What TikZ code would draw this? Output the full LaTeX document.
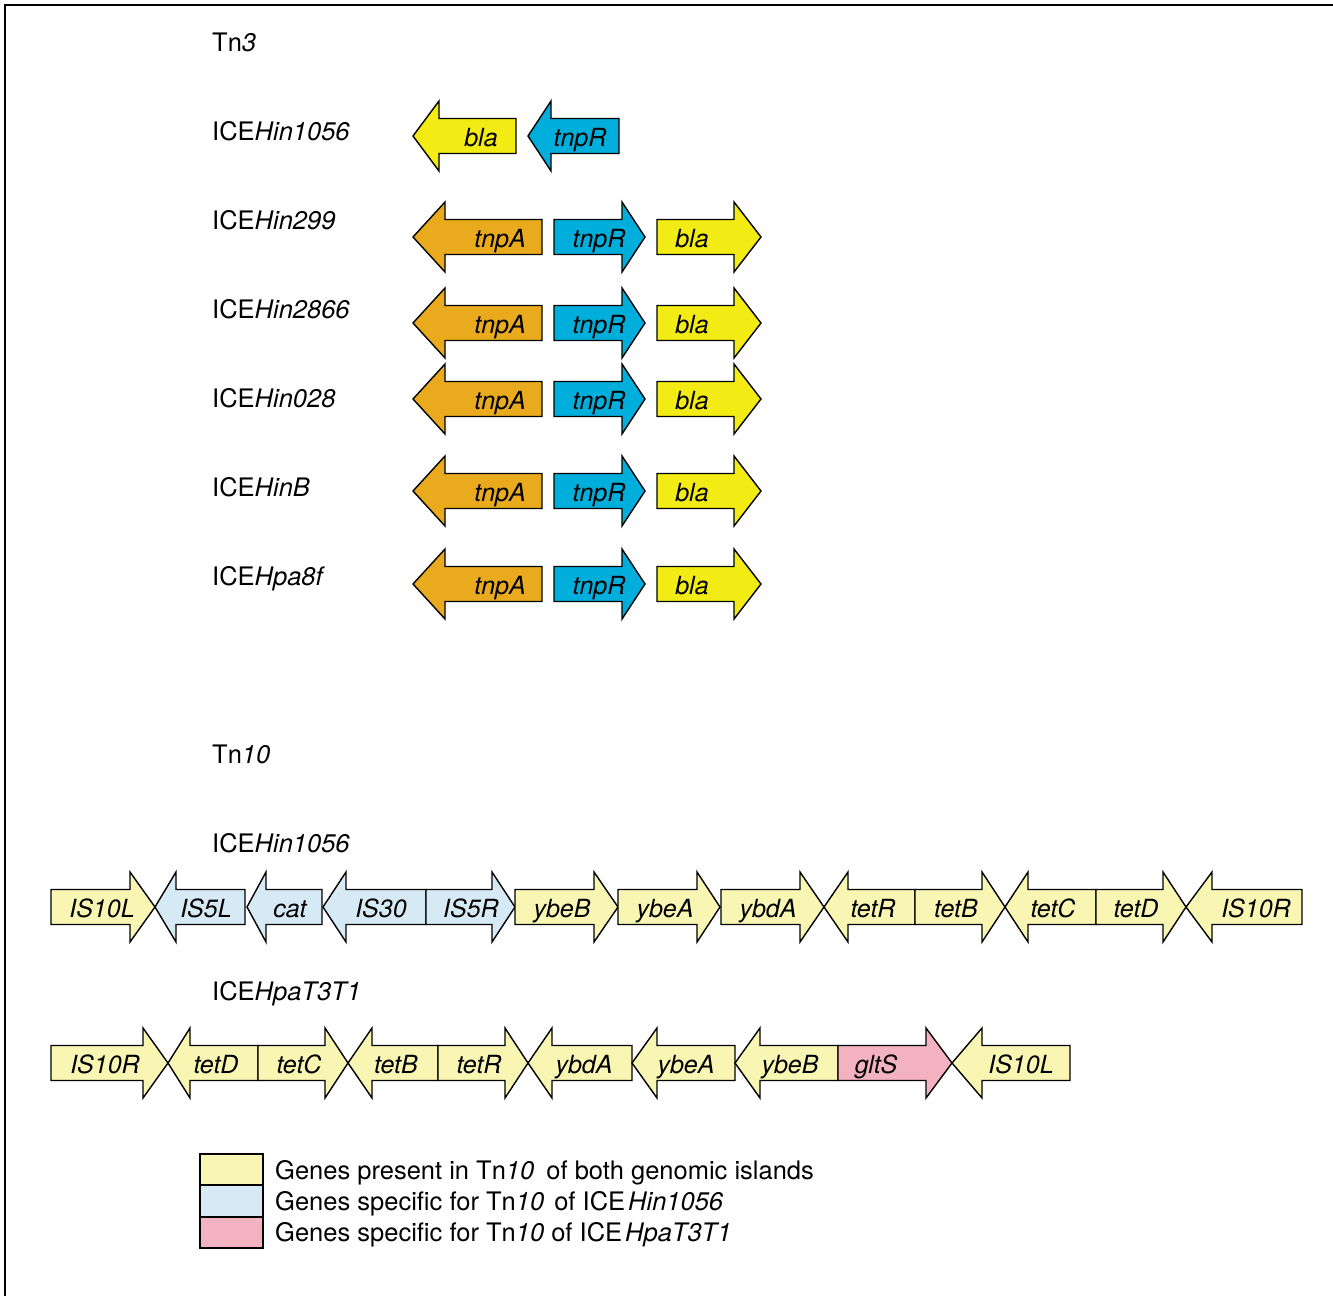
\documentclass[tikz,border=0pt]{standalone}
\usepackage{fontspec}
\setmainfont{TeX Gyre Heros}
\definecolor{gylw}{RGB}{242,235,20}
\definecolor{gcyan}{RGB}{0,174,219}
\definecolor{gorange}{RGB}{233,170,30}
\definecolor{pylw}{RGB}{249,245,178}
\definecolor{pblue}{RGB}{214,234,245}
\definecolor{ppink}{RGB}{242,178,194}
\newcommand{\gR}[5]{\path[gene,fill=#5] (#1,#4-17.5) -- (#2,#4-17.5) -- (#2,#4-35) -- (#3,#4) -- (#2,#4+35) -- (#2,#4+17.5) -- (#1,#4+17.5) -- cycle;}
\newcommand{\gL}[5]{\path[gene,fill=#5] (#3,#4-17.5) -- (#2,#4-17.5) -- (#2,#4-35) -- (#1,#4) -- (#2,#4+35) -- (#2,#4+17.5) -- (#3,#4+17.5) -- cycle;}
\begin{document}
\begin{tikzpicture}[x=1pt,y=-1pt,
  gene/.style={draw=black,line width=1.4pt,line join=miter},
  lbl/.style={anchor=base west,inner sep=0pt,font=\fontsize{25.5}{30}\selectfont},
  glbl/.style={anchor=base,inner sep=0pt,font=\fontsize{25}{30}\selectfont\itshape},
  legbox/.style={draw=black,line width=2pt}]
\useasboundingbox (0,0) rectangle (1333,1296);
\draw[line width=1.5pt] (5,1296) -- (5,5) -- (1333,5);
% ---------- Tn3 ----------
\node[lbl] (tn3) at (212,51) {Tn\textit{3}};
\node[lbl] (l1056) at (212,140) {ICE\textit{Hin1056}};
\node[lbl] (l299) at (212,229) {ICE\textit{Hin299}};
\node[lbl] (l2866) at (212,318) {ICE\textit{Hin2866}};
\node[lbl] (l028) at (212,407) {ICE\textit{Hin028}};
\node[lbl] (lB) at (212,496) {ICE\textit{HinB}};
\node[lbl] (l8f) at (212,585) {ICE\textit{Hpa8f}};
% row ICEHin1056
\gL{413}{439}{516}{136}{gylw}
\gL{528}{551}{619}{136}{gcyan}
\node[glbl] (a1bla) at (481,146) {bla};
\node[glbl] (a1tnpR) at (580,146) {tnpR};
% rows with tnpA tnpR bla
\foreach \yc/\nm in {237/b,323/c,399/d,491/e,584/f}{
  \gL{413}{445}{542}{\yc}{gorange}
  \gR{554}{622}{645}{\yc}{gcyan}
  \gR{657}{734}{761}{\yc}{gylw}
  \node[glbl] (\nm tnpA) at (500,\yc+10) {tnpA};
  \node[glbl] (\nm tnpR) at (599,\yc+10) {tnpR};
  \node[glbl] (\nm bla) at (692,\yc+10) {bla};
}
% ---------- Tn10 ----------
\node[lbl] (tn10) at (212,763) {Tn\textit{10}};
\node[lbl] (m1056) at (212,852) {ICE\textit{Hin1056}};
\node[lbl] (mT3T1) at (212,1000) {ICE\textit{HpaT3T1}};
% row 1
\gR{51}{130}{155}{907}{pylw}
\gL{155}{176}{245}{907}{pblue}
\gL{247}{266}{322}{907}{pblue}
\gL{323}{346}{426}{907}{pblue}
\gR{426}{492}{515}{907}{pblue}
\gR{515}{594}{618}{907}{pylw}
\gR{618}{697}{720}{907}{pylw}
\gR{721}{800}{824}{907}{pylw}
\gL{824}{848}{915}{907}{pylw}
\gR{915}{982}{1005}{907}{pylw}
\gL{1005}{1028}{1096}{907}{pylw}
\gR{1096}{1163}{1186}{907}{pylw}
\gL{1186}{1212}{1302}{907}{pylw}
\foreach \x/\t/\nm in {102/IS10L/r1a,206/IS5L/r1b,290/cat/r1c,381/IS30/r1d,471/IS5R/r1e,562/ybeB/r1f,665/ybeA/r1g,768/ybdA/r1h,873/tetR/r1i,956/tetB/r1j,1053/tetC/r1k,1136/tetD/r1l,1256/IS10R/r1m}
  \node[glbl] (\nm) at (\x,917) {\t};
% row 2
\gR{51}{143}{168}{1063}{pylw}
\gL{168}{190}{258}{1063}{pylw}
\gR{258}{325}{348}{1063}{pylw}
\gL{348}{372}{438}{1063}{pylw}
\gR{438}{505}{528}{1063}{pylw}
\gL{528}{552}{632}{1063}{pylw}
\gL{632}{657}{735}{1063}{pylw}
\gL{735}{760}{838}{1063}{pylw}
\gR{838}{926}{952}{1063}{ppink}
\gL{952}{982}{1070}{1063}{pylw}
\foreach \x/\t/\nm in {105/IS10R/r2a,216/tetD/r2b,299/tetC/r2c,396/tetB/r2d,479/tetR/r2e,584/ybdA/r2f,686/ybeA/r2g,790/ybeB/r2h,876/gltS/r2i,1021/IS10L/r2j}
  \node[glbl] (\nm) at (\x,1073) {\t};
% ---------- legend ----------
\draw[legbox,fill=pylw] (200,1154) rectangle (263,1185);
\draw[legbox,fill=pblue] (200,1185) rectangle (263,1217);
\draw[legbox,fill=ppink] (200,1217) rectangle (263,1248);
\node[lbl] (leg1) at (275,1179) {Genes present in Tn\textit{10}\hspace{5pt} of both genomic islands};
\node[lbl] (leg2) at (275,1210) {Genes specific for Tn\textit{10}\hspace{3pt} of ICE\hspace{3pt}\textit{Hin1056}};
\node[lbl] (leg3) at (275,1241) {Genes specific for Tn\textit{10} of ICE\hspace{3pt}\textit{HpaT3T1}};
\end{tikzpicture}
\end{document}
